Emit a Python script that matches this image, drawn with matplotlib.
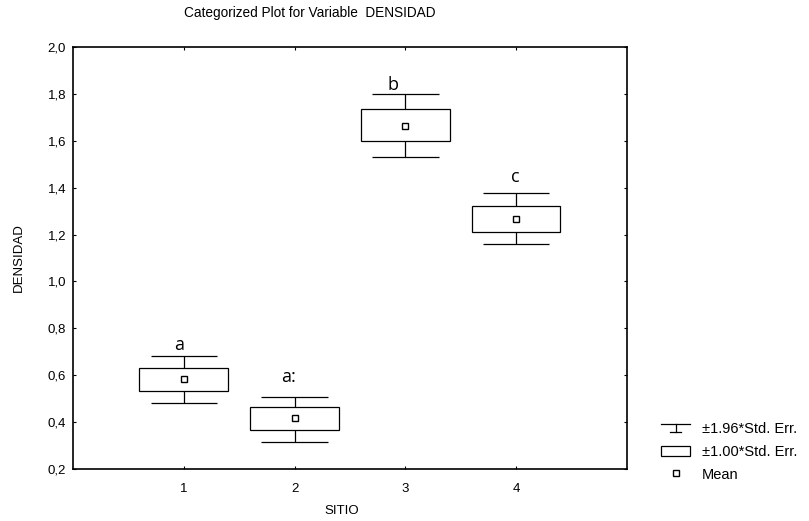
import numpy as np
import matplotlib as mpl
import matplotlib.pyplot as plt
from matplotlib.lines import Line2D
from matplotlib.patches import Rectangle
from matplotlib.legend_handler import HandlerBase

# values
SITIO = [1, 2, 3, 4]
MEAN = [0.582, 0.419, 1.664, 1.267]
BOX_LO = [0.534, 0.366, 1.600, 1.212]   # mean - 1.00*SE
BOX_HI = [0.632, 0.464, 1.734, 1.322]   # mean + 1.00*SE
WHISK_LO = [0.480, 0.316, 1.530, 1.158]  # mean - 1.96*SE
WHISK_HI = [0.680, 0.508, 1.800, 1.376]  # mean + 1.96*SE
GROUP_LETTERS = ['a', 'a:', 'b', 'c']
LETTER_X = [0.91, 1.88, 2.84, 3.95]
LETTER_Y = [0.73, 0.593, 1.838, 1.447]

Y_TICKS = [0.2, 0.4, 0.6, 0.8, 1.0, 1.2, 1.4, 1.6, 1.8, 2.0]

mpl.rcParams.update({
    'font.family': ['Liberation Sans', 'DejaVu Sans'],
    'font.size': 9.5,
    'axes.linewidth': 1.2,
    'xtick.direction': 'in',
    'ytick.direction': 'in',
    'xtick.major.size': 2.5,
    'ytick.major.size': 2.5,
})


class HandlerWhisker(HandlerBase):
    def create_artists(self, legend, orig_handle, xdescent, ydescent,
                       width, height, fontsize, trans):
        x0, x1 = -xdescent, -xdescent + width
        xc = (x0 + x1) / 2
        y_top = -ydescent + height * 0.85
        y_bot = -ydescent + height * 0.05
        lw = 0.9
        cap = Line2D([x0, x1], [y_top, y_top], color='black', lw=lw, transform=trans)
        stem = Line2D([xc, xc], [y_top, y_bot], color='black', lw=lw, transform=trans)
        foot = Line2D([xc - width * 0.2, xc + width * 0.2], [y_bot, y_bot],
                      color='black', lw=lw, transform=trans)
        return [cap, stem, foot]


fig = plt.figure(figsize=(8.09, 5.21), dpi=100)
ax = fig.add_axes([0.0902, 0.0998, 0.6848, 0.81])

x = np.array(SITIO, dtype=float)
box_w = 0.8
cap_w = 0.6

# whiskers (±1.96 SE)
ax.vlines(x, WHISK_LO, BOX_LO, color='black', lw=0.9)
ax.vlines(x, BOX_HI, WHISK_HI, color='black', lw=0.9)
ax.hlines(WHISK_LO, x - cap_w / 2, x + cap_w / 2, color='black', lw=0.9)
ax.hlines(WHISK_HI, x - cap_w / 2, x + cap_w / 2, color='black', lw=0.9)

# boxes (±1.00 SE)
ax.bar(x, np.array(BOX_HI) - np.array(BOX_LO), bottom=BOX_LO, width=box_w,
       fill=False, edgecolor='black', linewidth=0.9)

# means
ax.plot(x, MEAN, linestyle='none', marker='s', markersize=5,
        markerfacecolor='white', markeredgecolor='black', markeredgewidth=1.0)

for lx, ly, txt in zip(LETTER_X, LETTER_Y, GROUP_LETTERS):
    ax.text(lx, ly, txt, fontsize=13, family=['Open Sans', 'DejaVu Sans'],
            ha='left', va='center')

ax.set_xlim(0, 5)
ax.set_ylim(0.2, 2.0)
ax.set_xticks(SITIO)
ax.set_xticklabels([str(s) for s in SITIO], fontsize=9.5)
ax.set_yticks(Y_TICKS)
ax.set_yticklabels([f'{v:.1f}'.replace('.', ',') for v in Y_TICKS], fontsize=9.5)
ax.tick_params(top=True, right=True)
ax.tick_params(axis='x', pad=10)
ax.tick_params(axis='y', pad=5)

ax.set_xlabel('SITIO', fontsize=9.5)
ax.set_ylabel('DENSIDAD', fontsize=9.5)
ax.xaxis.set_label_coords(0.485, -0.085)
ax.yaxis.set_label_coords(-0.086, 0.5)

fig.text(0.383, 0.975, 'Categorized Plot for Variable  DENSIDAD',
         ha='center', va='center', fontsize=9.8)

h_whisk = Line2D([], [])
h_box = Rectangle((0, 0), 1, 1, fill=False, edgecolor='black', linewidth=0.9)
h_mean = Line2D([], [], linestyle='none', marker='s', markersize=5,
                markerfacecolor='white', markeredgecolor='black', markeredgewidth=1.0)
fig.legend([h_whisk, h_box, h_mean],
           ['±1.96*Std. Err.', '±1.00*Std. Err.', 'Mean'],
           handler_map={h_whisk: HandlerWhisker()},
           loc='upper left', bbox_to_anchor=(0.808, 0.204), frameon=False,
           fontsize=10.5, handlelength=2.0, handletextpad=0.8,
           labelspacing=0.6, borderpad=0)

fig.savefig('out.png', dpi=100)
